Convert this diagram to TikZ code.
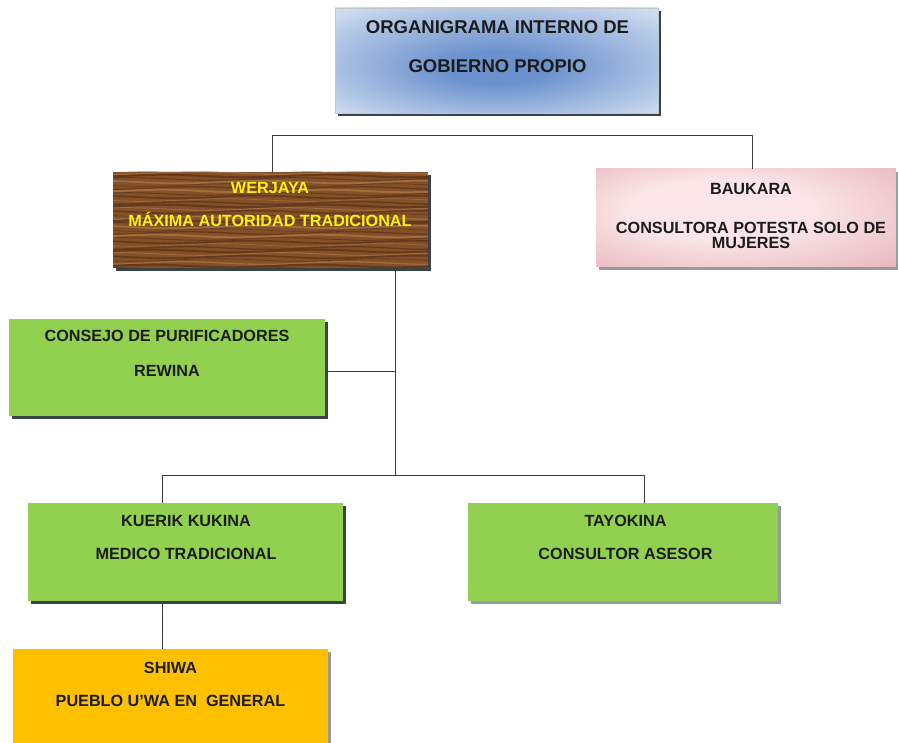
\documentclass[tikz,border=0pt]{standalone}
\usepackage{fontspec}
\setmainfont{Liberation Sans}
\usetikzlibrary{shadows}
\definecolor{tblueC}{RGB}{108,146,206}
\definecolor{tblueO}{RGB}{220,230,243}
\definecolor{pinkC}{RGB}{250,230,232}
\definecolor{pinkO}{RGB}{220,150,160}
\definecolor{woodbase}{RGB}{132,80,40}
\definecolor{wooddark}{RGB}{72,40,18}
\definecolor{woodlight}{RGB}{190,132,80}
\definecolor{grn}{RGB}{146,208,80}
\definecolor{org}{RGB}{255,192,0}
\definecolor{shdark}{RGB}{58,68,72}
\definecolor{shlight}{RGB}{150,155,160}
\definecolor{lncol}{RGB}{60,60,60}
\definecolor{txtdark}{RGB}{28,28,28}
\definecolor{ylw}{RGB}{250,240,20}
\pgfdeclareradialshading{titleshade}{\pgfpoint{0bp}{-4bp}}{color(0bp)=(tblueC); color(8bp)=(tblueC); color(38bp)=(tblueO); color(50bp)=(tblueO)}
\pgfdeclareradialshading{pinkshade}{\pgfpoint{-6bp}{6bp}}{color(0bp)=(pinkC); color(15bp)=(pinkC); color(55bp)=(pinkO)}
\tikzset{
  box/.style={draw=none, inner sep=0pt, outer sep=0pt, anchor=north west},
  shd/.style={general shadow={fill=#1, shadow xshift=3pt, shadow yshift=-3pt}},
  txt/.style={inner sep=0pt, outer sep=0pt, anchor=north, align=center, text=txtdark},
  bodyfont/.style={font=\fontsize{16.2}{#1}\selectfont\bfseries},
  conn/.style={draw=lncol, line width=0.9pt},
  wood/.style={fill=woodbase, path picture={
    \begin{scope}[shift={(path picture bounding box.center)}]
    \foreach \i in {0,...,33}{
      \pgfmathsetmacro{\yy}{3*\i-50}
      \pgfmathsetmacro{\ph}{mod(\i*73,360)}
      \pgfmathsetmacro{\lw}{0.6+mod(\i*7,5)*0.35}
      \pgfmathtruncatemacro{\cc}{mod(\i,3)}
      \ifnum\cc=1 \def\col{woodlight}\else\def\col{wooddark}\fi
      \draw[line width=\lw pt, color=\col, opacity=0.55] plot[domain=-165:165, samples=45, smooth] (\x,{\yy+1.3*sin(2.2*\x+\ph)});
    }
    \end{scope}
  }}
}
\begin{document}
\begin{tikzpicture}[x=1pt, y=-1pt]
\useasboundingbox (0,0) rectangle (898,743);
\fill[white] (0,0) rectangle (898,743);

% boxes
\node[box, minimum width=323pt, minimum height=105pt, shading=titleshade, shd=shdark, draw=tblueO!70!gray, line width=0.5pt] (title) at (335,8) {};
\node[box, minimum width=315pt, minimum height=96pt, wood, shd=shdark] (wer) at (113,172) {};
\node[box, minimum width=300pt, minimum height=98pt, shading=pinkshade, shd=shlight] (bau) at (596,169) {};
\node[box, minimum width=316pt, minimum height=97pt, fill=grn, shd=shdark] (cons) at (9,319) {};
\node[box, minimum width=315pt, minimum height=98pt, fill=grn, shd=shdark] (kue) at (28,503) {};
\node[box, minimum width=310pt, minimum height=98pt, fill=grn, shd=shlight] (tay) at (468,503) {};
\node[box, minimum width=315pt, minimum height=94pt, fill=org, shd=shlight] (shi) at (13,649) {};

% texts
\node[txt, font=\fontsize{18.5}{39}\selectfont\bfseries] (titleT) at ([yshift=-13pt,xshift=1pt]title.north) {ORGANIGRAMA INTERNO DE\\GOBIERNO PROPIO};
\node[txt, bodyfont=33, text=ylw] (werT) at ([yshift=-10pt,xshift=-0.5pt]wer.north) {WERJAYA\\MÁXIMA AUTORIDAD TRADICIONAL};
\node[txt, bodyfont=15] (bauT) at ([yshift=-14pt,xshift=5pt]bau.north) {BAUKARA\\[24pt]CONSULTORA POTESTA SOLO DE\\MUJERES};
\node[txt, bodyfont=35] (consT) at ([yshift=-11pt]cons.north) {CONSEJO DE PURIFICADORES\\REWINA};
\node[txt, bodyfont=33] (kueT) at ([yshift=-12pt,xshift=0.5pt]kue.north) {KUERIK KUKINA\\MEDICO TRADICIONAL};
\node[txt, bodyfont=33] (tayT) at ([yshift=-12pt,xshift=2.5pt]tay.north) {TAYOKINA\\CONSULTOR ASESOR};
\node[txt, bodyfont=33] (shiT) at ([yshift=-13pt]shi.north) {SHIWA\\PUEBLO U’WA EN~~GENERAL};

% junctions
\coordinate (j1) at (272,135);
\coordinate (j2) at (752,135);
\coordinate (j3) at (395,475);
\coordinate (j4) at (395,371);
\coordinate (j5) at (162,475);
\coordinate (j6) at (644,475);

% connectors
\draw[conn] (wer.north -| j1) -- (j1) -- (j2) -- (bau.north -| j2);
\draw[conn] (wer.south -| j3) -- (j3);
\draw[conn] (cons.east |- j4) -- (j4);
\draw[conn] (kue.north -| j5) -- (j5) -- (j6) -- (tay.north -| j6);
\draw[conn] (kue.south -| j5) -- (shi.north -| j5);
\end{tikzpicture}
\end{document}
